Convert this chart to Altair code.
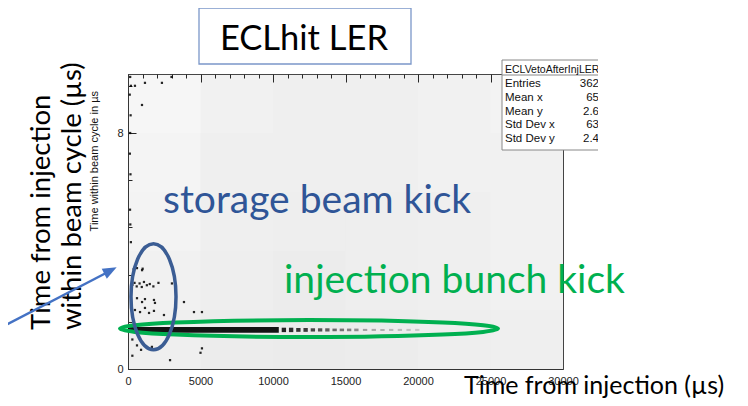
import altair as alt
import pandas as pd

# ---------------- data ----------------
x_major = [0, 5000, 10000, 15000, 20000, 25000, 30000]
x_minor = [1000, 2000, 3000, 4000, 6000, 7000, 8000, 9000, 11000, 12000, 13000, 14000,
           16000, 17000, 18000, 19000, 21000, 22000, 23000, 24000, 26000, 27000, 28000, 29000]
y_major = [0, 2, 4, 6, 8, 10]
y_minor = [0.4, 0.8, 1.2, 1.6, 2.4, 2.8, 3.2, 3.6, 4.4, 4.8, 5.2, 5.6,
           6.4, 6.8, 7.2, 7.6, 8.4, 8.8, 9.2, 9.6]

# background hit density (x bins of 5000, y bins of 2), rows from y=0 upward
bg_x0 = [0, 5000, 10000, 15000, 20000, 25000]
bg_y0 = [0, 2, 4, 6, 8]
bg_level = [
    [0.10, 0.12, 0.13, 0.12, 0.11, 0.10],
    [0.09, 0.11, 0.12, 0.11, 0.10, 0.09],
    [0.08, 0.10, 0.11, 0.11, 0.10, 0.09],
    [0.07, 0.10, 0.10, 0.10, 0.09, 0.09],
    [0.06, 0.09, 0.10, 0.10, 0.09, 0.08],
]

# injection bunch band near 1.3 us
band_from = [0, 10600, 11100, 11600, 12100, 12600, 13100, 13600, 14100, 14600,
             15100, 15600, 16200, 16800, 17400, 18000, 18600, 19200, 19800]
band_to = [10400, 10900, 11400, 11900, 12400, 12900, 13400, 13900, 14400, 14900,
           15400, 15900, 16500, 17100, 17700, 18300, 18900, 19500, 20100]
band_lo = [1.23, 1.25, 1.25, 1.26, 1.26, 1.27, 1.27, 1.27, 1.28, 1.28,
           1.28, 1.28, 1.29, 1.29, 1.29, 1.29, 1.29, 1.29, 1.29]
band_hi = [1.42, 1.40, 1.40, 1.39, 1.39, 1.38, 1.38, 1.38, 1.37, 1.37,
           1.37, 1.37, 1.36, 1.36, 1.36, 1.36, 1.36, 1.36, 1.36]
band_alpha = [0.92, 0.85, 0.8, 0.78, 0.75, 0.7, 0.65, 0.6, 0.55, 0.5,
              0.45, 0.4, 0.32, 0.28, 0.25, 0.22, 0.2, 0.18, 0.15]

# storage beam kick hits and isolated hits
hit_x = [390, 620, 970, 1010,
         300, 450, 600, 800, 950, 1100, 1300, 1500, 1750, 2100,
         620, 970, 1170, 1790, 1860,
         480, 830, 1170, 1450, 1790, 2480,
         3030, 3860, 5100, 4550,
         300, 620, 900, 1650, 300, 2900, 5100, 5000,
         150, 200, 120, 180, 150, 130, 170, 140, 160, 200,
         965, 1170, 2340, 480, 3000]
hit_y = [3.38, 3.42, 3.35, 3.40,
         2.85, 2.92, 2.80, 2.90, 2.78, 2.95, 2.84, 2.88, 2.80, 2.92,
         2.40, 2.27, 2.37, 2.34, 2.24,
         2.00, 1.93, 2.07, 1.90, 1.97, 1.83,
         2.90, 2.27, 1.93, 1.93,
         1.00, 0.80, 0.65, 0.75, 0.45, 0.30, 0.70, 0.55,
         9.9, 9.6, 9.3, 8.6, 8.0, 7.3, 6.6, 5.4, 4.9, 4.3,
         8.95, 9.7, 9.7, 9.6, 9.9]

# annotation texts
stats_labels = ["Entries", "Mean x", "Mean y", "Std Dev x", "Std Dev y"]
stats_values = ["362", "65", "2.6", "63", "2.4"]

# ---------------- tables ----------------
bg_rows = []
for j, y0 in enumerate(bg_y0):
    for i, x0 in enumerate(bg_x0):
        bg_rows.append({"x": x0, "x2": x0 + 5000, "y": y0, "y2": y0 + 2, "a": bg_level[j][i]})
bg_df = pd.DataFrame(bg_rows)
band_df = pd.DataFrame({"x": band_from, "x2": band_to, "a": band_alpha,
                        "y": band_lo, "y2": band_hi})
hit_df = pd.DataFrame({"x": hit_x, "y": hit_y})
one = pd.DataFrame({"k": [0]})

W, H = 435, 295
XMAX, YMAX = 30000, 10

xs = alt.Scale(domain=[0, XMAX], nice=False, zero=False)
ys = alt.Scale(domain=[0, YMAX], nice=False, zero=False)

# ROOT-style inward ticks: axis grid lines cut to a short dash starting at the axis
x_axis = alt.Axis(
    values=sorted(x_major + x_minor), ticks=False, grid=True, title=None, format="d",
    labelExpr="datum.value % 5000 === 0 ? datum.label : ''",
    labelFont="Liberation Sans", labelFontSize=11, labelColor="#222",
    labelPadding=6, domainColor="#333", labelFlush=False, labelOverlap=False,
    gridColor="#222", gridWidth=1, gridOpacity=1,
    gridDash={"condition": {"test": "datum.value % 5000 === 0", "value": [8, 1000]},
              "value": [4, 1000]})
y_axis = alt.Axis(
    values=sorted(y_major + y_minor), ticks=False, grid=True, title=None, format="d",
    labelExpr="datum.value % 2 === 0 ? datum.label : ''",
    labelFont="Liberation Sans", labelFontSize=11, labelColor="#222",
    labelPadding=5, domainColor="#333", labelFlush=False, labelOverlap=False,
    gridColor="#222", gridWidth=1, gridOpacity=1,
    gridDash={"condition": {"test": "datum.value % 2 === 0", "value": [8, 1000]},
              "value": [4, 1000]})


def X(f):
    return alt.X(f, type="quantitative", scale=xs, axis=x_axis)


def Y(f):
    return alt.Y(f, type="quantitative", scale=ys, axis=y_axis)


bg = alt.Chart(bg_df).mark_rect(color="#666666", strokeWidth=0).encode(
    x=X("x"), x2="x2", y=Y("y"), y2="y2",
    opacity=alt.Opacity("a:Q", scale=None, legend=None))

band = alt.Chart(band_df).mark_rect(color="black", strokeWidth=0).encode(
    x=X("x"), x2="x2", y=Y("y"), y2="y2",
    opacity=alt.Opacity("a:Q", scale=None, legend=None))

hits = alt.Chart(hit_df).mark_square(color="black", size=5, opacity=0.85).encode(
    x=X("x"), y=Y("y"))


def ellipse_path(rx, ry):
    k = 0.5523
    return (f"M{rx},0 C{rx},{k*ry:.4f} {k*rx:.4f},{ry} 0,{ry} "
            f"C{-k*rx:.4f},{ry} {-rx},{k*ry:.4f} {-rx},0 "
            f"C{-rx},{-k*ry:.4f} {-k*rx:.4f},{-ry} 0,{-ry} "
            f"C{k*rx:.4f},{-ry} {rx},{-k*ry:.4f} {rx},0 Z")


blue_ell = alt.Chart(pd.DataFrame({"x": [1759], "y": [2.45]})).mark_point(
    shape=ellipse_path(22.5 / 53, 1), filled=False, stroke="#3b5d94", strokeWidth=3.5,
    opacity=1, size=(2 * 53) ** 2).encode(x=X("x"), y=Y("y"))

green_ell = alt.Chart(pd.DataFrame({"x": [12483], "y": [1.37]})).mark_point(
    shape=ellipse_path(1, 8.5 / 189), filled=False, stroke="#00b050", strokeWidth=4,
    opacity=1, size=(2 * 189) ** 2).encode(x=X("x"), y=Y("y"))

storage_txt = alt.Chart(pd.DataFrame({"x": [2414], "y": [5.29], "t": ["storage beam kick"]})).mark_text(
    font="Lato", fontSize=39, color="#2f5597", align="left", baseline="alphabetic").encode(
    x=X("x"), y=Y("y"), text="t:N")

inj_txt = alt.Chart(pd.DataFrame({"x": [10759], "y": [2.58], "t": ["injection bunch kick"]})).mark_text(
    font="Lato", fontSize=39, color="#00b050", align="left", baseline="alphabetic").encode(
    x=X("x"), y=Y("y"), text="t:N")

# ---------- pixel-placed annotations (outside the plot) ----------
title_box = alt.Chart(one).mark_rect(fill="white", stroke="#7b97c9", strokeWidth=1.3).encode(
    x=alt.value(71), x2=alt.value(283), y=alt.value(-66), y2=alt.value(-10))
title_txt = alt.Chart(one).mark_text(font="Lato", fontSize=34.5, color="black",
                                     align="center", baseline="alphabetic").encode(
    x=alt.value(176), y=alt.value(-24), text=alt.value("ECLhit LER"))

left1 = alt.Chart(one).mark_text(font="Lato", fontSize=27.5, color="black", angle=270,
                                 align="left", baseline="alphabetic").encode(
    x=alt.value(-78), y=alt.value(256), text=alt.value("Time from injection"))
left2 = alt.Chart(one).mark_text(font="Lato", fontSize=27.5, color="black", angle=270,
                                 align="left", baseline="alphabetic").encode(
    x=alt.value(-47), y=alt.value(256), text=alt.value("within beam cycle (µs)"))
ytitle = alt.Chart(one).mark_text(font="Liberation Sans", fontSize=11, color="#111", angle=270,
                                  align="right", baseline="alphabetic").encode(
    x=alt.value(-30), y=alt.value(17), text=alt.value("Time within beam cycle in µs"))
bottom_txt = alt.Chart(one).mark_text(font="Lato", fontSize=25, color="black",
                                      align="left", baseline="alphabetic").encode(
    x=alt.value(336), y=alt.value(320), text=alt.value("Time from injection (µs)"))

arrow_line = alt.Chart(one).mark_rule(color="#4472c4", strokeWidth=2.5).encode(
    x=alt.value(-128), y=alt.value(254), x2=alt.value(-20), y2=alt.value(198))
arrow_head = alt.Chart(one).mark_point(shape="M0,-1 L0.55,0.4 L-0.55,0.4 Z", filled=True,
                                       color="#4472c4", opacity=1, size=400, angle=62.5).encode(
    x=alt.value(-20.2), y=alt.value(197.9))

stats_box = alt.Chart(one).mark_rect(fill="white", stroke="#888", strokeWidth=1).encode(
    x=alt.value(374), x2=alt.value(480), y=alt.value(-14), y2=alt.value(76))
stats_sep = alt.Chart(one).mark_rule(color="#888").encode(
    x=alt.value(374), x2=alt.value(480), y=alt.value(1), y2=alt.value(1))
stats_title = alt.Chart(one).mark_text(font="Liberation Sans", fontSize=10.5, color="#111",
                                       align="left", baseline="alphabetic").encode(
    x=alt.value(377), y=alt.value(-1), text=alt.value("ECLVetoAfterInjLER"))
stats_df = pd.DataFrame({"lab": stats_labels, "val": stats_values,
                         "py": [13, 27, 40.5, 54, 67.5]})
stats_lab = alt.Chart(stats_df).mark_text(font="Liberation Sans", fontSize=11.5, color="#111",
                                          align="left", baseline="alphabetic").encode(
    x=alt.value(377), y=alt.Y("py:Q", scale=None, axis=None), text="lab:N")
stats_val = alt.Chart(stats_df).mark_text(font="Liberation Sans", fontSize=11.5, color="#111",
                                          align="right", baseline="alphabetic").encode(
    x=alt.value(471), y=alt.Y("py:Q", scale=None, axis=None), text="val:N")
cover = alt.Chart(one).mark_rect(fill="white", strokeWidth=0).encode(
    x=alt.value(470), x2=alt.value(620), y=alt.value(-20), y2=alt.value(80))

chart = alt.layer(
    bg, band, hits, green_ell, blue_ell, storage_txt, inj_txt,
    title_box, title_txt, left1, left2, ytitle, bottom_txt, arrow_line, arrow_head,
    stats_box, stats_sep, stats_title, stats_lab, stats_val, cover
).properties(
    width=W, height=H,
    autosize=alt.AutoSizeParams(type="none"),
    padding={"left": 120, "top": 66, "right": 177, "bottom": 29},
).configure_view(stroke="#444", strokeWidth=1)

chart.save("out.html", embed_options={"renderer": "svg", "actions": False})
